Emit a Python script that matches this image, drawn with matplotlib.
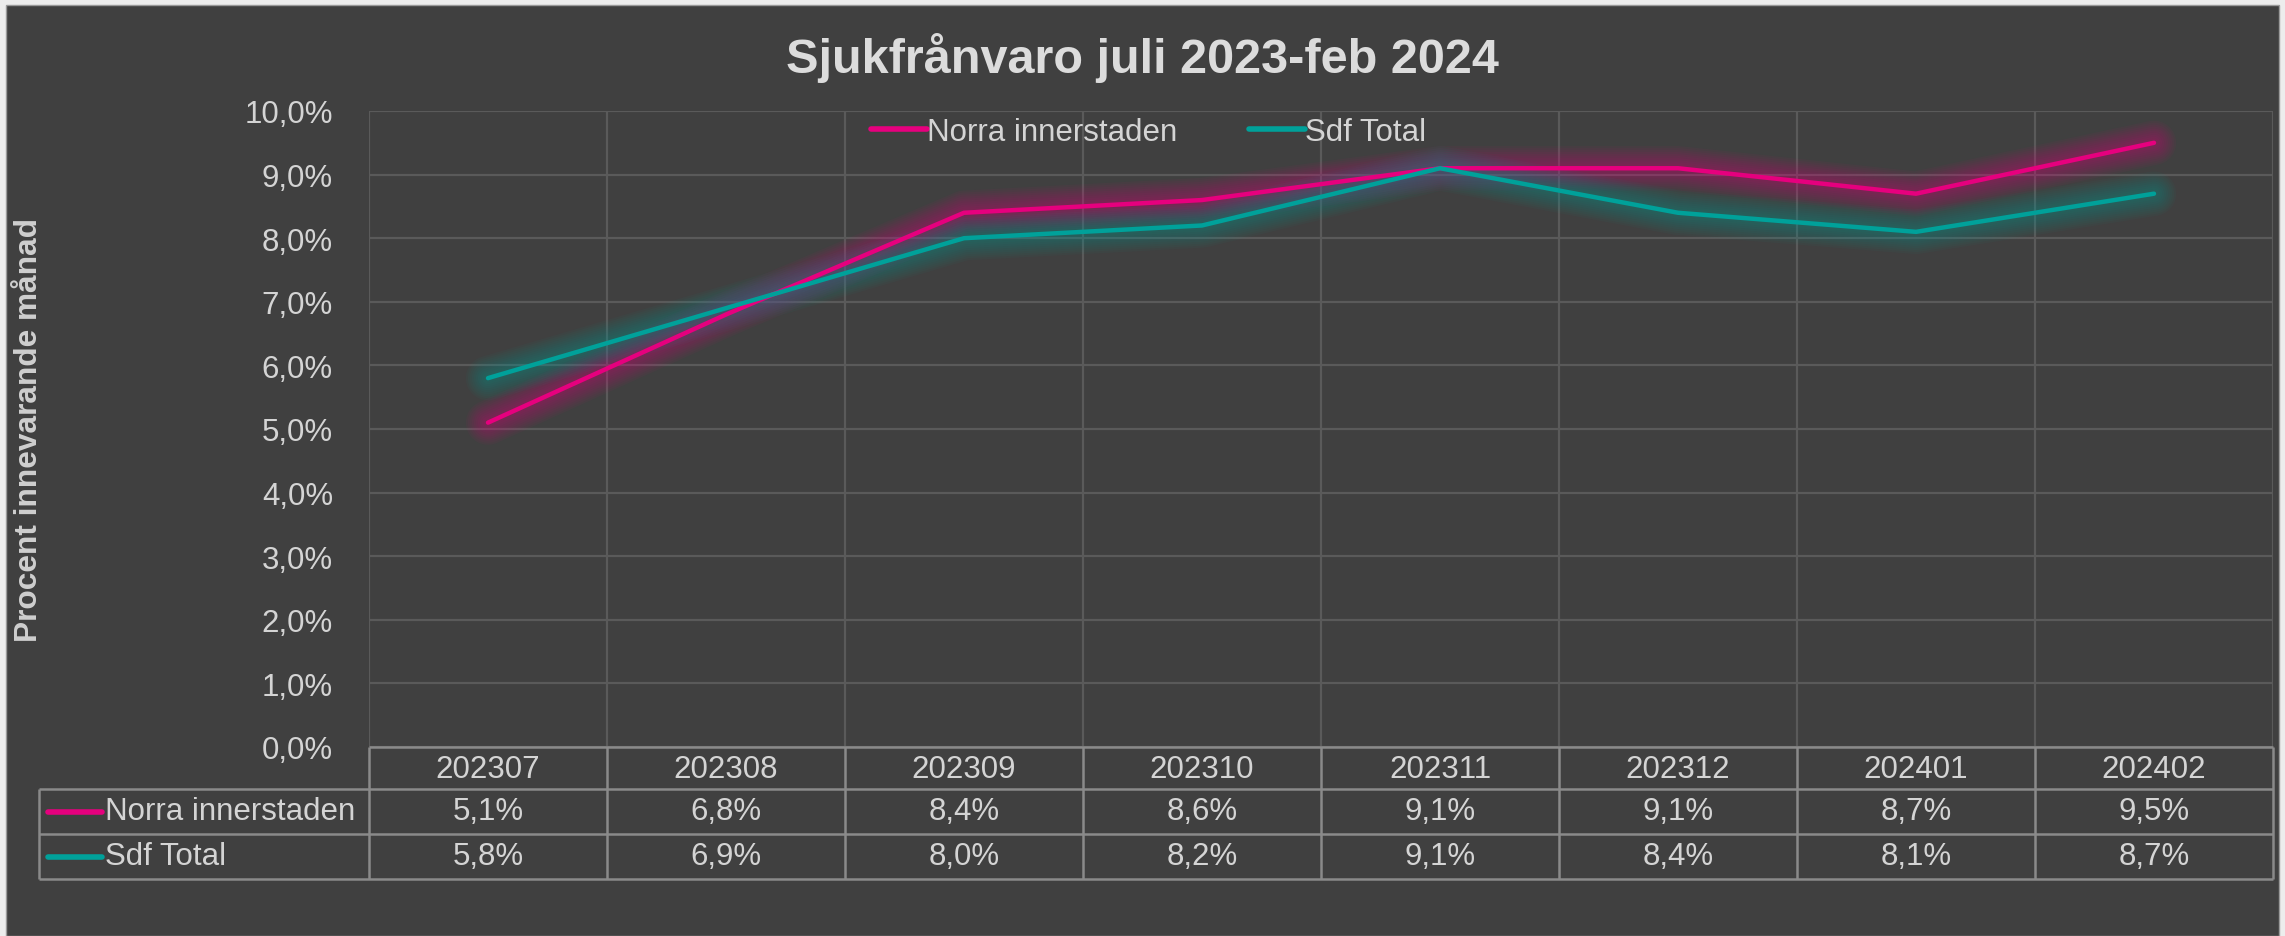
import matplotlib
matplotlib.use("Agg")
import matplotlib.pyplot as plt
from matplotlib.patches import Rectangle
import numpy as np

plt.rcParams['font.family'] = ['Liberation Sans', 'DejaVu Sans']

# ---- data ----
months = ["202307", "202308", "202309", "202310", "202311", "202312", "202401", "202402"]
norra = [5.1, 6.8, 8.4, 8.6, 9.1, 9.1, 8.7, 9.5]
sdf = [5.8, 6.9, 8.0, 8.2, 9.1, 8.4, 8.1, 8.7]
series_names = ["Norra innerstaden", "Sdf Total"]
series_values = [norra, sdf]
title = "Sjukfrånvaro juli 2023-feb 2024"
ylabel = "Procent innevarande månad"
yticks = [0, 1, 2, 3, 4, 5, 6, 7, 8, 9, 10]

# ---- style ----
W, H = 2285, 937
BG = "#404040"
TXT = "#D4D4D4"
GRID = "#5A5A5A"
TLINE = "#8A8A8A"
colors = ["#E6007E", "#00A19A"]
FS = 22.5

fig = plt.figure(figsize=(W / 100, H / 100), dpi=100)
fig.patch.set_facecolor("#EDEDED")
fig.patches.append(Rectangle((6 / W, 0), (W - 12) / W, (H - 6) / H,
                             transform=fig.transFigure, facecolor=BG,
                             edgecolor="#9A9A9A", lw=1, zorder=-10))

def fx(px):
    return px / W

def fy(py):
    return 1 - py / H

L, R, T, B = 369, 2273, 112, 748
ax = fig.add_axes([fx(L), fy(B), fx(R) - fx(L), fy(T) - fy(B)])
ax.set_facecolor(BG)
n = len(months)
x = np.arange(n)
ax.set_xlim(-0.5, n - 0.5)
ax.set_ylim(0, 10)
for s in ax.spines.values():
    s.set_visible(False)
ax.set_xticks(np.arange(-0.5, n, 1.0))
ax.set_xticklabels([])
ax.set_yticks(yticks)
ax.set_yticklabels([f"{v:.1f}%".replace(".", ",") for v in yticks],
                   color=TXT, fontsize=FS)
ax.tick_params(length=0, pad=26)
ax.grid(True, color=GRID, lw=1.6)
ax.set_axisbelow(True)

# glowing lines
for vals, c, name in zip(series_values, colors, series_names):
    for lw in np.linspace(32, 6, 10):
        ax.plot(x, vals, color=c, lw=lw, alpha=0.045, solid_capstyle="round",
                solid_joinstyle="round", zorder=2)
    ax.plot(x, vals, color=c, lw=3.2, solid_capstyle="round",
            solid_joinstyle="round", zorder=3, label=name)

leg = ax.legend(loc="upper center", ncol=2, frameon=False, fontsize=FS,
                bbox_to_anchor=(0.4095, 1.035), handlelength=1.8,
                handletextpad=0.0, columnspacing=2.3)
for t in leg.get_texts():
    t.set_color(TXT)
for h in leg.get_lines():
    h.set_linewidth(4)

fig.text(0.5, fy(58), title, ha="center", va="center", fontsize=35,
         fontweight="bold", color="#DCDCDC")
fig.text(fx(29), fy(430), ylabel, rotation=90, ha="center", va="center",
         fontsize=22.8, fontweight="bold", color="#CFCFCF")

# ---- data table ----
TL = 39
rows_y = [748, 790, 835, 880]
col_w = (R - L) / n
tx = fig.add_axes([0, 0, 1, 1], facecolor="none")
tx.set_xlim(0, W)
tx.set_ylim(H, 0)
tx.axis("off")
lk = dict(color=TLINE, lw=1.8, solid_capstyle="butt")
tx.plot([L, R], [rows_y[0]] * 2, **lk)
for yy in rows_y[1:]:
    tx.plot([TL, R], [yy, yy], **lk)
tx.plot([TL, TL], [rows_y[1], rows_y[3]], **lk)
for i in range(n + 1):
    xx = L + i * col_w
    tx.plot([xx, xx], [rows_y[0], rows_y[3]], **lk)
for i, m in enumerate(months):
    tx.text(L + (i + 0.5) * col_w, (rows_y[0] + rows_y[1]) / 2 + 1, m,
            ha="center", va="center", fontsize=FS, color=TXT)
for r, (vals, c, name) in enumerate(zip(series_values, colors, series_names)):
    yc = (rows_y[r + 1] + rows_y[r + 2]) / 2
    tx.plot([48, 102], [yc, yc], color=c, lw=4, solid_capstyle="round")
    tx.text(105, yc, name, ha="left", va="center", fontsize=FS, color=TXT)
    for i, v in enumerate(vals):
        tx.text(L + (i + 0.5) * col_w, yc, f"{v:.1f}%".replace(".", ","),
                ha="center", va="center", fontsize=FS, color=TXT)

fig.savefig("out.png", dpi=100, facecolor=fig.get_facecolor())
